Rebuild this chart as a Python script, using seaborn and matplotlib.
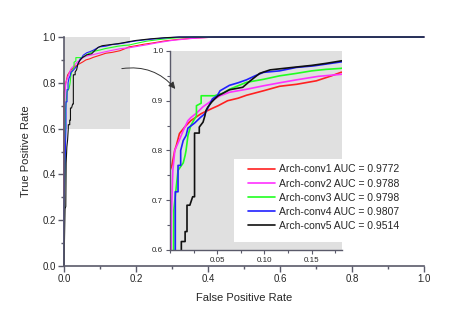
import pandas as pd
import matplotlib.pyplot as plt
import seaborn as sns
from matplotlib.patches import Rectangle, FancyArrowPatch
from matplotlib.ticker import MultipleLocator, FormatStrFormatter

# ROC points (fpr, tpr)
fpr_conv1 = [0, 0, 0.002, 0.005, 0.0067, 0.010, 0.0155, 0.022, 0.033, 0.044, 0.051, 0.061, 0.072, 0.081,
             0.099, 0.116, 0.134, 0.155, 0.171, 0.181, 0.2, 0.22, 0.25, 0.28, 0.32, 0.37, 0.43, 1.0]
tpr_conv1 = [0, 0.76, 0.77, 0.80, 0.81, 0.834, 0.847, 0.86, 0.874, 0.884, 0.89, 0.90, 0.905, 0.911,
             0.92, 0.929, 0.933, 0.94, 0.95, 0.957, 0.962, 0.968, 0.975, 0.983, 0.99, 0.996, 1.0, 1.0]

fpr_conv2 = [0, 0.0005, 0.0015, 0.003, 0.0046, 0.005, 0.0085, 0.011, 0.014, 0.019, 0.022, 0.028, 0.035,
             0.044, 0.053, 0.063, 0.081, 0.099, 0.116, 0.134, 0.157, 0.181, 0.2, 0.23, 0.26, 0.3, 0.35, 0.42, 1.0]
tpr_conv2 = [0, 0.45, 0.67, 0.76, 0.79, 0.80, 0.815, 0.826, 0.84, 0.86, 0.866, 0.875, 0.888,
             0.90, 0.91, 0.917, 0.923, 0.93, 0.936, 0.942, 0.949, 0.953, 0.958, 0.966, 0.975, 0.985, 0.993, 1.0, 1.0]

fpr_conv3 = [0, 0.001, 0.0035, 0.004, 0.0085, 0.014, 0.016, 0.017, 0.019, 0.022, 0.025, 0.028, 0.028,
             0.033, 0.033, 0.047, 0.056, 0.063, 0.072, 0.081, 0.09, 0.099, 0.116, 0.134, 0.15, 0.165, 0.181,
             0.2, 0.23, 0.27, 0.31, 0.36, 1.0]
tpr_conv3 = [0, 0.3, 0.5, 0.68, 0.76, 0.775, 0.79, 0.80, 0.83, 0.85, 0.86, 0.87, 0.89,
             0.895, 0.91, 0.91, 0.915, 0.923, 0.93, 0.937, 0.94, 0.943, 0.95, 0.955, 0.96, 0.963, 0.965,
             0.972, 0.982, 0.99, 0.996, 1.0, 1.0]

fpr_conv4 = [0, 0, 0.003, 0.0056, 0.0056, 0.0085, 0.0085, 0.0113, 0.0113, 0.014, 0.017, 0.019, 0.026,
             0.032, 0.037, 0.04, 0.045, 0.05, 0.053, 0.063, 0.072, 0.081, 0.09, 0.099, 0.116, 0.134, 0.152,
             0.181, 0.2, 0.24, 0.28, 0.32, 1.0]
tpr_conv4 = [0, 0.25, 0.45, 0.6, 0.717, 0.717, 0.77, 0.77, 0.80, 0.82, 0.83, 0.845, 0.855,
             0.866, 0.874, 0.885, 0.904, 0.91, 0.92, 0.931, 0.936, 0.942, 0.95, 0.957, 0.96, 0.967, 0.97,
             0.978, 0.983, 0.99, 0.996, 1.0, 1.0]

fpr_conv5 = [0, 0.003, 0.005, 0.006, 0.008, 0.01, 0.012, 0.012, 0.016, 0.016, 0.018, 0.018, 0.021, 0.024,
             0.026, 0.026, 0.031, 0.031, 0.035, 0.037, 0.038, 0.04, 0.044, 0.047, 0.051, 0.056, 0.063, 0.077,
             0.085, 0.095, 0.106, 0.13, 0.15, 0.165, 0.181, 0.2, 0.24, 0.28, 0.32, 1.0]
tpr_conv5 = [0, 0.25, 0.26, 0.45, 0.52, 0.55, 0.6, 0.617, 0.617, 0.637, 0.637, 0.69, 0.69, 0.707,
             0.707, 0.835, 0.835, 0.847, 0.857, 0.87, 0.88, 0.887, 0.897, 0.903, 0.91, 0.915, 0.922, 0.927,
             0.94, 0.955, 0.962, 0.967, 0.971, 0.975, 0.98, 0.985, 0.992, 0.997, 1.0, 1.0]

labels = ["Arch-conv1 AUC = 0.9772", "Arch-conv2 AUC = 0.9788", "Arch-conv3 AUC = 0.9798",
          "Arch-conv4 AUC = 0.9807", "Arch-conv5 AUC = 0.9514"]
colors = ["#ff2020", "#ff30ff", "#20ff20", "#2020ff", "#101010"]

series = [(fpr_conv1, tpr_conv1), (fpr_conv2, tpr_conv2), (fpr_conv3, tpr_conv3),
          (fpr_conv4, tpr_conv4), (fpr_conv5, tpr_conv5)]

rows = []
for name, (fx, ty) in zip(labels, series):
    for a, b in zip(fx, ty):
        rows.append({"fpr": a, "tpr": b, "model": name})
df = pd.DataFrame(rows)

sns.set_style("ticks")
plt.rcParams["font.family"] = ["Liberation Sans", "DejaVu Sans"]

spine_col = "#5a5a6a"
gray_bg = "#e0e0e0"

fig = plt.figure(figsize=(4.57, 3.21), dpi=100)

# Main axes
ax = fig.add_axes([0.140, 0.1713, 0.788, 0.7134])
ax.axvspan(0, 0.183, ymin=0.6, ymax=1.0, color=gray_bg, zorder=0, lw=0)
sns.lineplot(data=df, x="fpr", y="tpr", hue="model", palette=colors, estimator=None,
             sort=False, linewidth=0.8, legend=False, ax=ax)
for ln in ax.lines:
    ln.set_clip_on(False)
ax.set_xlim(0, 1)
ax.set_ylim(0, 1)
ax.xaxis.set_major_locator(MultipleLocator(0.2))
ax.xaxis.set_minor_locator(MultipleLocator(0.1))
ax.yaxis.set_major_locator(MultipleLocator(0.2))
ax.yaxis.set_minor_locator(MultipleLocator(0.1))
ax.xaxis.set_major_formatter(FormatStrFormatter("%.1f"))
ax.yaxis.set_major_formatter(FormatStrFormatter("%.1f"))
ax.tick_params(which="major", direction="out", length=4, width=1, color=spine_col, labelsize=7, pad=2)
ax.tick_params(which="minor", direction="out", length=2.5, width=1, color=spine_col)
ax.set_xlabel("False Positive Rate", fontsize=8, labelpad=6)
ax.set_ylabel("True Positive Rate", fontsize=8, labelpad=8)
sns.despine(ax=ax)
for s in ["left", "bottom"]:
    ax.spines[s].set_color(spine_col)
    ax.spines[s].set_linewidth(1.2)

# Inset axes (zoom)
ax_in = fig.add_axes([0.372, 0.2212, 0.376, 0.62])
ax_in.set_facecolor(gray_bg)
sns.lineplot(data=df, x="fpr", y="tpr", hue="model", palette=colors, estimator=None,
             sort=False, linewidth=1.2, ax=ax_in)
ax_in.set_xlim(0, 0.182)
ax_in.set_ylim(0.6, 1.0)
ax_in.xaxis.set_major_locator(MultipleLocator(0.05))
ax_in.xaxis.set_minor_locator(MultipleLocator(0.025))
ax_in.yaxis.set_major_locator(MultipleLocator(0.1))
ax_in.yaxis.set_minor_locator(MultipleLocator(0.05))
ax_in.xaxis.set_major_formatter(FormatStrFormatter("%.2f"))
ax_in.yaxis.set_major_formatter(FormatStrFormatter("%.1f"))
ax_in.set_xticks([0.05, 0.10, 0.15])
ax_in.tick_params(which="major", direction="out", length=3, width=0.8, color=spine_col, labelsize=5.8, pad=2)
ax_in.tick_params(which="minor", direction="out", length=2, width=0.8, color=spine_col)
ax_in.set_xlabel("")
ax_in.set_ylabel("")
sns.despine(ax=ax_in)
for s in ["left", "bottom"]:
    ax_in.spines[s].set_color(spine_col)
    ax_in.spines[s].set_linewidth(1.0)

# white legend box
box = Rectangle((0.372, 0.04), 1.08, 0.417, transform=ax_in.transAxes, facecolor="white",
                edgecolor="none", clip_on=False, zorder=4)
ax_in.add_patch(box)
handles, labs = ax_in.get_legend_handles_labels()
ax_in.get_legend().remove()
ax_in.legend(handles, labs, loc="upper left", bbox_to_anchor=(0.453, 0.43), frameon=False,
             fontsize=7.5, handlelength=2.6, handletextpad=0.4, labelspacing=0.4,
             borderpad=0, borderaxespad=0)

# curved arrow from the gray box to the inset
arrow = FancyArrowPatch((0.153, 0.86), (0.314, 0.764), transform=ax.transData,
                        connectionstyle="arc3,rad=-0.3", arrowstyle="-|>,head_length=4,head_width=2",
                        color="#333333", linewidth=0.7, zorder=5)
fig.add_artist(arrow)

plt.savefig("out.png", dpi=100)
plt.close()
